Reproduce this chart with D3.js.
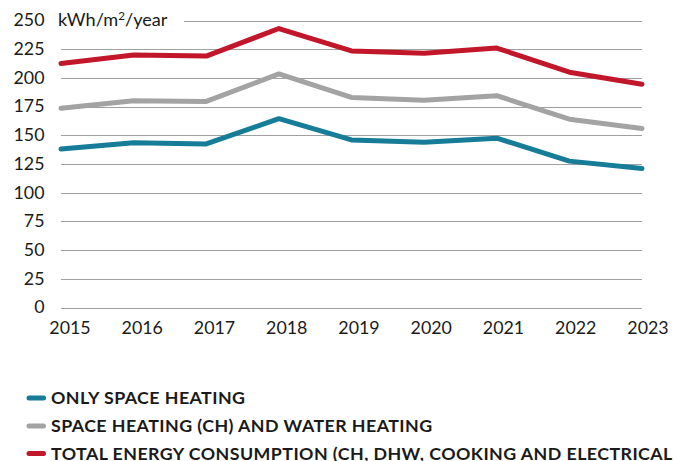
<!DOCTYPE html>
<html><head><meta charset="utf-8">
<script src="https://cdn.jsdelivr.net/npm/d3@7"></script>
<style>
html,body{margin:0;padding:0;background:#fff;overflow:hidden;}
svg{display:block;font-family:Lato,"Open Sans",sans-serif;}
</style></head>
<body>
<svg id="c" width="673" height="461"></svg>
<script>
const years = [2015,2016,2017,2018,2019,2020,2021,2022,2023];
const spaceHeating = [138,143.5,142.5,164.5,146,144,147.5,127.5,121];
const spaceWaterHeating = [173.5,180,179.5,203.5,183,180.5,184.5,164,156];
const totalConsumption = [212.5,220,219,243,223.5,221.5,226,205,194.5];
const yTicks = [0,25,50,75,100,125,150,175,200,225,250];
const seriesNames = ["ONLY SPACE HEATING","SPACE HEATING (CH) AND WATER HEATING","TOTAL ENERGY CONSUMPTION (CH, DHW, COOKING AND ELECTRICAL APPLIANCES)"];
const seriesColors = ["#167c98","#a3a3a3","#c2162a"];

const series = [spaceHeating, spaceWaterHeating, totalConsumption];
const svg = d3.select("#c");
const x = d3.scalePoint().domain(years).range([61,642]);
const xLabel = d3.scalePoint().domain(years).range([70,648]);
const y = d3.scaleLinear().domain([0,250]).range([307.5,20.5]);
const SX = 1.08;
const txt = "#1a1a1a";

// gridlines
const grid = svg.append("g");
yTicks.forEach(t=>{
  grid.append("line")
    .attr("x1", t===250 ? 184 : 61).attr("x2", 642)
    .attr("y1", Math.round(y(t))+0.5).attr("y2", Math.round(y(t))+0.5)
    .attr("stroke", "#a0a0a0").attr("stroke-width",1);
});

// y labels
svg.append("g").selectAll("text").data(yTicks).join("text")
  .attr("transform", d=>`translate(44.5,${y(d)+5.8}) scale(${SX},1)`)
  .attr("text-anchor","end").attr("font-size","16.5px").attr("fill",txt)
  .text(d=>d);

// x labels
svg.append("g").selectAll("text").data(years).join("text")
  .attr("transform", d=>`translate(${xLabel(d)},334.3) scale(${SX},1)`)
  .attr("text-anchor","middle").attr("font-size","16.5px").attr("fill",txt)
  .text(d=>d);

// unit label
const u = svg.append("text").attr("transform",`translate(58,26) scale(1.1,1)`)
  .attr("font-size","16.5px").attr("fill",txt);
u.append("tspan").text("kWh/m");
u.append("tspan").attr("font-size","10.5px").attr("dy","-6").text("2");
u.append("tspan").attr("dy","6").text("/year");

// lines
const line = d3.line().x((d,i)=>x(years[i])).y(d=>y(d));
series.forEach((s,i)=>{
  svg.append("path").datum(s).attr("d",line).attr("fill","none")
    .attr("stroke",seriesColors[i]).attr("stroke-width",5)
    .attr("stroke-linecap","round").attr("stroke-linejoin","round");
});

// legend
const legendBase = [404,432,459.5];
seriesNames.forEach((n,i)=>{
  const g = svg.append("g");
  g.append("line").attr("x1",29).attr("x2",43.5).attr("y1",legendBase[i]-6).attr("y2",legendBase[i]-6)
    .attr("stroke",seriesColors[i]).attr("stroke-width",5).attr("stroke-linecap","round");
  g.append("text").attr("transform",`translate(51,${legendBase[i]}) scale(${SX},1)`)
    .attr("font-size","16.5px").attr("letter-spacing","0.4px")
    .attr("font-weight","bold").attr("fill",txt).text(n);
});
</script>
</body></html>
